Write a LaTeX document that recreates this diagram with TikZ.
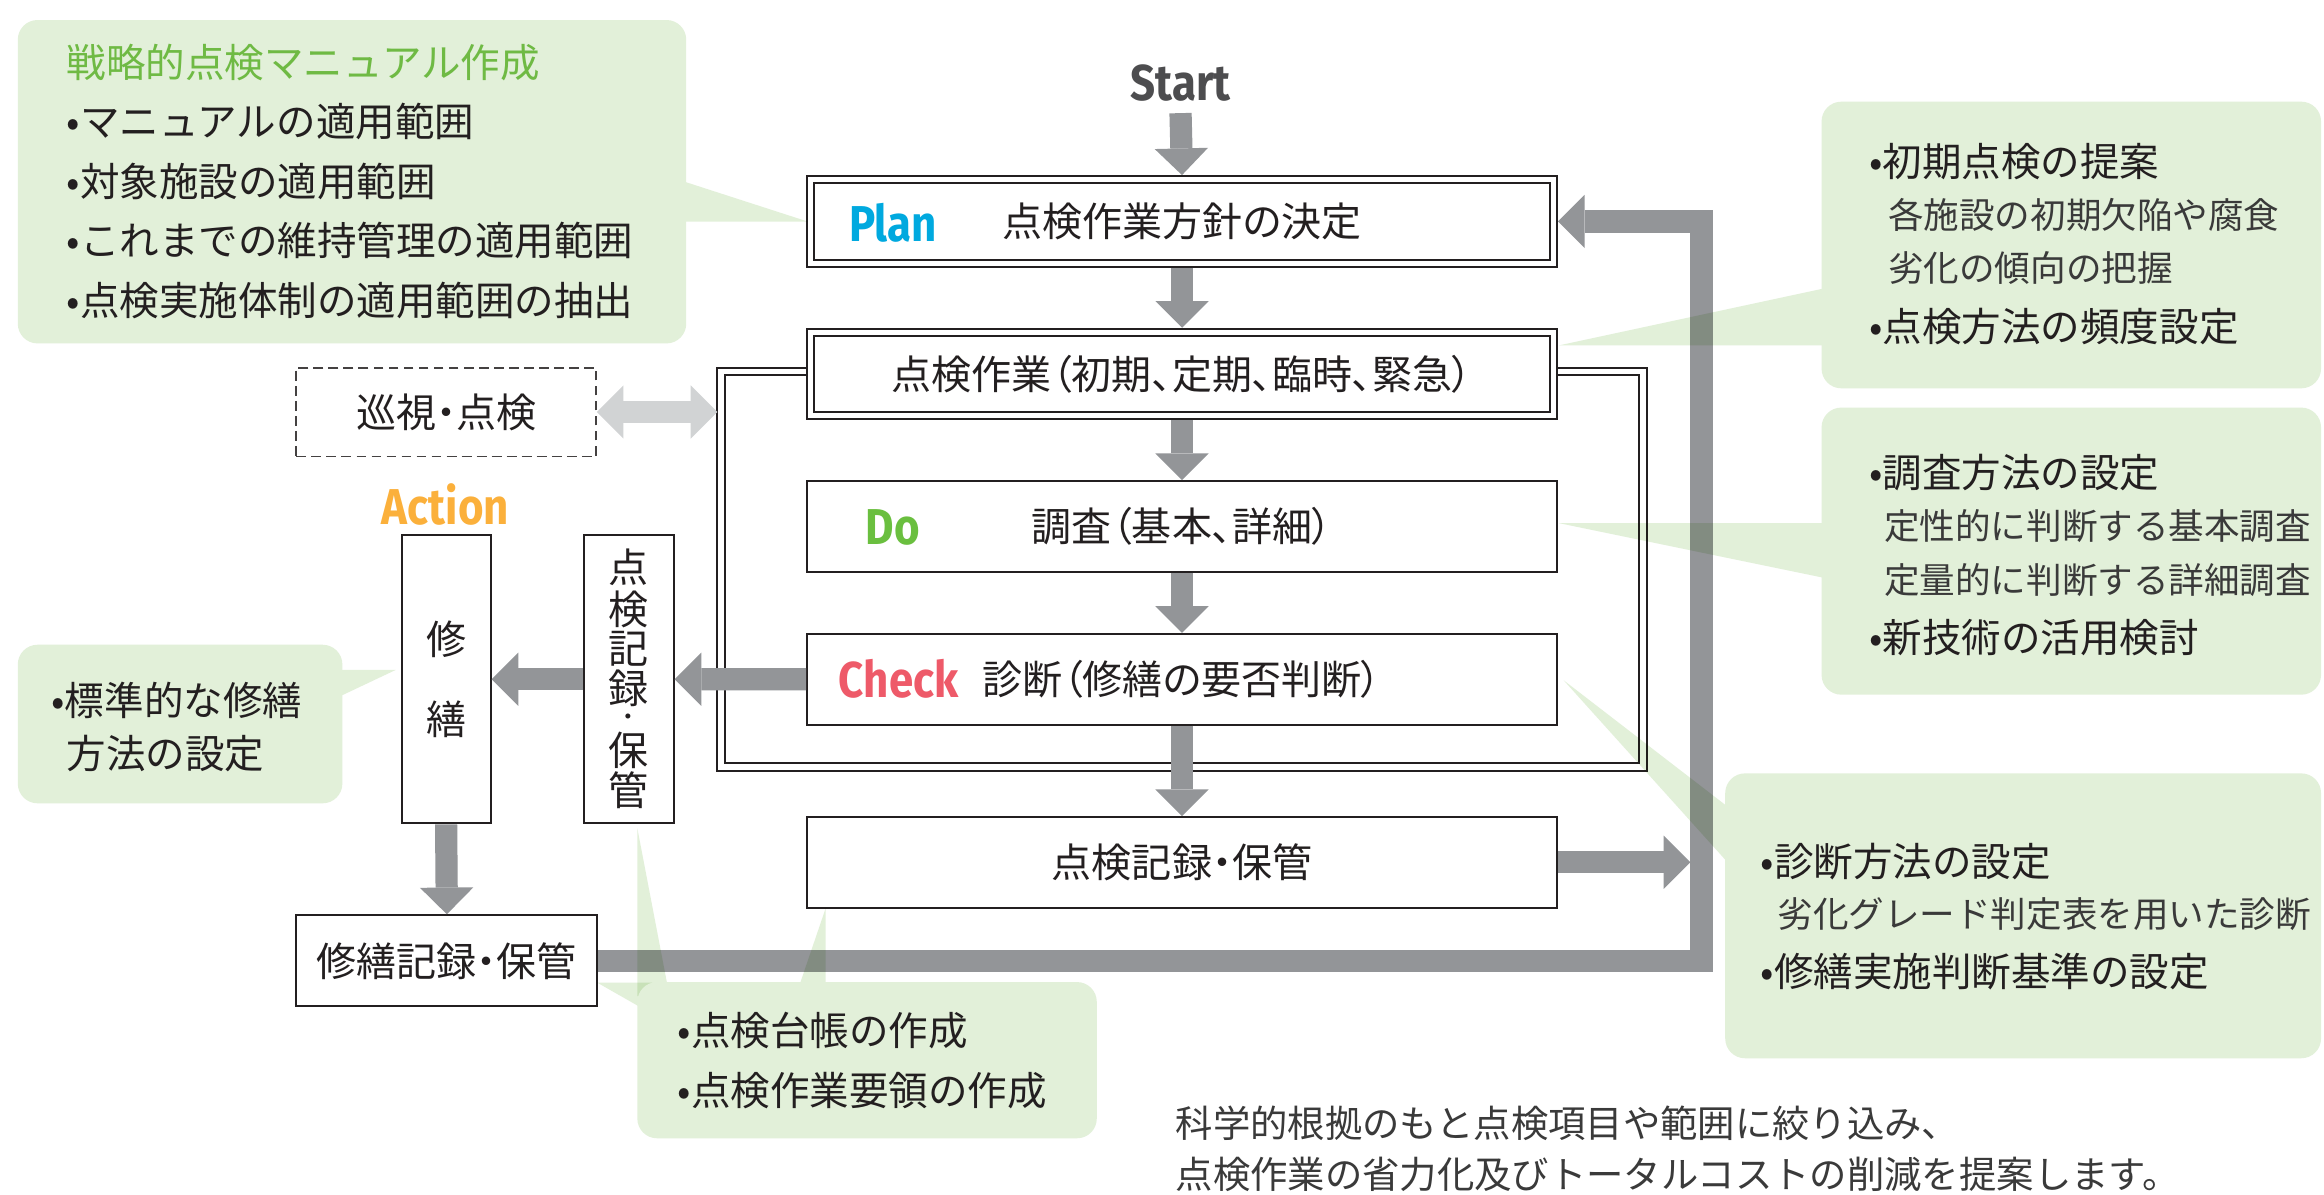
\documentclass[tikz,border=0pt]{standalone}
\usepackage{fontspec}
\setmainfont{Noto Sans CJK JP}
\newfontfamily\jpp[RawFeature=+palt]{Noto Sans CJK JP}
\newfontfamily\lab[FakeStretch=0.87]{Fira Sans}
\usetikzlibrary{arrows.meta}
\definecolor{ink}{HTML}{231F20}
\definecolor{cb}{HTML}{E2F0D9}
\definecolor{garr}{HTML}{939598}
\definecolor{lgarr}{HTML}{D1D3D4}
\definecolor{ttl}{HTML}{6FBA44}
\definecolor{cplan}{HTML}{00A9DF}
\definecolor{cdo}{HTML}{6ABF3F}
\definecolor{ccheck}{HTML}{EE5A69}
\definecolor{cact}{HTML}{FBB03B}
\definecolor{cstart}{HTML}{4D4D4F}
\definecolor{subt}{HTML}{3A3A3A}
\tikzset{
  bx/.style={draw=ink, line width=1pt, fill=white, inner sep=0pt, text=ink,
    font=\jpp\fontsize{20.25pt}{24pt}\selectfont},
  bxl/.style={draw=ink, line width=1pt},
  garrow/.style={draw=garr, line width=11.25pt, line join=miter,
    -{Triangle[width=27pt,length=13.5pt,line width=0pt]}},
  larrow/.style={draw=lgarr, line width=11.25pt,
    {Triangle[width=27pt,length=13.5pt,line width=0pt]}-{Triangle[width=27pt,length=13.5pt,line width=0pt]}},
  ct/.style={inner sep=0pt, anchor=west, text=ink, font=\fontsize{20pt}{24pt}\selectfont},
  cs/.style={inner sep=0pt, anchor=west, text=subt, font=\fontsize{18pt}{22pt}\selectfont},
  vt/.style={inner sep=0pt, text=ink, font=\jpp\fontsize{20.25pt}{24pt}\selectfont},
  lbl/.style={inner sep=0pt, font=\lab\bfseries\fontsize{25.5pt}{30pt}\selectfont},
  bub/.style={fill=cb, rounded corners=10pt},
  ptr/.style={fill=cb}
}
\begin{document}
\begin{tikzpicture}[x=0.75pt, y=-0.75pt]
\useasboundingbox (0,0) rectangle (1568,806);
\fill[white] (0,0) rectangle (1568,806);

% big double frame
\draw[bxl] (484,248) rectangle (1111,520);
\draw[bxl] (489,253) rectangle (1106,515);

% main column boxes
\node[bx, minimum width=379.5pt, minimum height=45.9pt] (plan) at (797.5,149.4) {点検作業方針の決定};
\draw[bxl] ([shift={(5.5,5.5)}]plan.north west) rectangle ([shift={(-5.5,-5.5)}]plan.south east);
\node[bx, minimum width=379.5pt, minimum height=45.75pt] (task) at (797.5,252.3) {点検作業（初期、定期、臨時、緊急）};
\draw[bxl] ([shift={(5.5,5.5)}]task.north west) rectangle ([shift={(-5.5,-5.5)}]task.south east);
\node[bx, minimum width=379.5pt, minimum height=45.9pt] (do) at (797.5,355.2) {調査（基本、詳細）};
\node[bx, minimum width=379.5pt, minimum height=46pt] (check) at (797.5,458.3) {診断（修繕の要否判断）};
\node[bx, minimum width=379.5pt, minimum height=45.8pt] (rec) at (797.5,581.8) {点検記録・保管};

% left boxes
\node[bx, dashed, dash pattern=on 5pt off 2.6pt, draw=ink!85, minimum width=151.5pt, minimum height=45pt] (patrol) at (301,278) {巡視・点検};
\node[bx, minimum width=45pt, minimum height=145.9pt] (repair) at (301,458.25) {};
\node[bx, minimum width=45.4pt, minimum height=145.9pt] (vrec) at (424.25,458.25) {};
\node[bx, minimum width=152.25pt, minimum height=46.1pt] (rrec) at (301.5,648.25) {修繕記録・保管};

% labels
\node[lbl, text=cstart] (start) at (796.5,55.7) {Start};
\node[lbl, text=cplan] (lplan) at (602.5,150) {Plan};
\node[lbl, text=cdo] (ldo) at (602.3,355.7) {Do};
\node[lbl, text=ccheck] (lcheck) at (606.3,458) {Check};
\node[lbl, text=cact] (lact) at (300.5,340.3) {Action};

% vertical texts
\node[vt] (r1) at (301,431) {修};
\node[vt] (r2) at (301,485) {繕};
\node[vt] (v1) at (424.25,383) {点};
\node[vt] (v2) at (424.25,411) {検};
\node[vt] (v3) at (424.25,438) {記};
\node[vt] (v4) at (424.25,464.5) {録};
\node[vt, font=\jpp\fontsize{12pt}{14pt}\selectfont] (v5) at (424.25,485.5) {・};
\node[vt] (v6) at (424.25,506) {保};
\node[vt] (v7) at (424.25,533) {管};

% gray arrows
\coordinate (barL) at (1140.5,581.8);
\coordinate (loopB) at (1148,648.25);
\coordinate (loopT) at (1148,149.4);
\coordinate (frameL) at (484,278);
\draw[garrow] ([yshift=-6pt]start.south) -- (plan.north);
\draw[garrow] (plan.south) -- (task.north);
\draw[garrow] (task.south) -- (do.north);
\draw[garrow] (do.south) -- (check.north);
\draw[garrow] (check.south) -- (rec.north);
\draw[garrow] (check.west) -- (vrec.east);
\draw[garrow] (vrec.west) -- (repair.east);
\draw[garrow] (repair.south) -- (rrec.north);
\draw[garrow] (rec.east) -- (barL);
\draw[garrow] (rrec.east) -- (loopB) -- (loopT) -- (plan.east);
\draw[larrow] (patrol.east) -- (frameL);

% callout pointers (multiplied over what they cross)
\begin{scope}[blend mode=multiply]
\fill[ptr] (455,120.4) -- (545,149.5) -- (455,149.5) -- cycle;
\fill[ptr] (1052,233) -- (1240,192.6) -- (1240,233) -- cycle;
\fill[ptr] (1052,353) -- (1240,353) -- (1240,391.8) -- cycle;
\fill[ptr] (1055,459) -- (1172,549.2) -- (1172,588.9) -- cycle;
\fill[ptr] (267,452) -- (223,452) -- (223,472.8) -- cycle;
\fill[ptr] (430,558.8) -- (451.7,672) -- (430,672) -- cycle;
\fill[ptr] (557,613) -- (557,672) -- (536.9,672) -- cycle;
\fill[ptr] (403,663) -- (440,663) -- (440,684.1) -- cycle;
\end{scope}

% callout bodies
\fill[bub] (12,13.5) rectangle (463,231.7);
\fill[bub] (1229,68.6) rectangle (1566,262);
\fill[bub] (1229,275) rectangle (1566,468.7);
\fill[bub] (1164,521.8) rectangle (1566,714);
\fill[bub] (12,435) rectangle (231,542);
\fill[bub] (430,662.6) rectangle (740,768);

% callout texts
\node[ct, text=ttl] (tl0) at (44.7,42) {戦略的点検マニュアル作成};
\node[ct] (tl1) at (44.7,82) {•マニュアルの適用範囲};
\node[ct] (tl2) at (44.7,122.5) {•対象施設の適用範囲};
\node[ct] (tl3) at (44.7,162.5) {•これまでの維持管理の適用範囲};
\node[ct] (tl4) at (44.7,202.6) {•点検実施体制の適用範囲の抽出};

\node[ct] (ra1) at (1261,108.7) {•初期点検の提案};
\node[cs] (ra2) at (1273.7,145) {各施設の初期欠陥や腐食};
\node[cs] (ra3) at (1273.7,180.8) {劣化の傾向の把握};
\node[ct] (ra4) at (1261,220) {•点検方法の頻度設定};

\node[ct] (rb1) at (1261,319) {•調査方法の設定};
\node[cs] (rb2) at (1271,355) {定性的に判断する基本調査};
\node[cs] (rb3) at (1271,391.5) {定量的に判断する詳細調査};
\node[ct] (rb4) at (1261,430) {•新技術の活用検討};

\node[ct] (rc1) at (1187.6,581) {•診断方法の設定};
\node[cs] (rc2) at (1199,617) {劣化グレード判定表を用いた診断};
\node[ct] (rc3) at (1187.6,655.6) {•修繕実施判断基準の設定};

\node[ct] (lm1) at (34.5,472.8) {•標準的な修繕};
\node[ct] (lm2) at (44.8,508.6) {方法の設定};

\node[ct] (bm1) at (457,695) {•点検台帳の作成};
\node[ct] (bm2) at (457,736) {•点検作業要領の作成};

\node[cs, font=\fontsize{18.9pt}{22pt}\selectfont] (n1) at (793,758) {科学的根拠のもと点検項目や範囲に絞り込み、};
\node[cs, font=\fontsize{18.9pt}{22pt}\selectfont] (n2) at (793,792.5) {点検作業の省力化及びトータルコストの削減を提案します。};
\end{tikzpicture}
\end{document}
